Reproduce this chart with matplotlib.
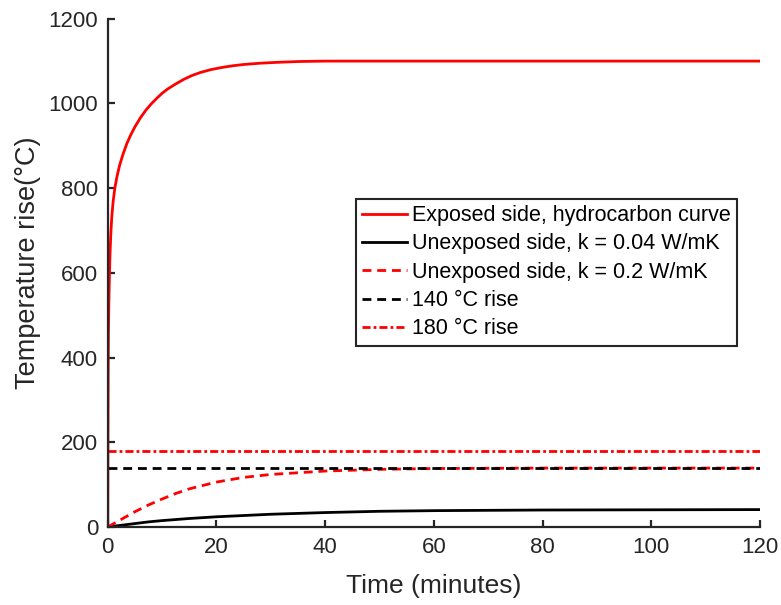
import numpy as np
import matplotlib.pyplot as plt

plt.rcParams["font.family"] = ["Liberation Sans", "DejaVu Sans"]

# exposed side, hydrocarbon curve
t_hc = [0, 0.03, 0.07, 0.12, 0.2, 0.3, 0.4, 0.55, 0.75, 1, 1.3, 1.7, 2.2, 2.8, 3.5,
        4.2, 5, 6, 7, 8, 9, 10, 11, 12.5, 14, 15.5, 17, 19, 21, 23, 25, 28, 31,
        35, 40, 50, 60, 80, 100, 120]
T_hc = [0, 200, 360, 460, 530, 590, 640, 690, 735, 770, 800, 828, 855, 880, 905,
        925, 945, 966, 984, 999, 1012, 1024, 1034, 1046, 1057, 1066, 1073, 1080,
        1085, 1089, 1092, 1095, 1097, 1099, 1100, 1100, 1100, 1100, 1100, 1100]

# unexposed side, k = 0.04 W/mK
t_k004 = [0, 2.5, 5, 7.5, 10, 15, 20, 25, 30, 40, 50, 60, 80, 100, 120]
T_k004 = [0, 4, 8, 12, 15, 20, 24, 27, 30, 34, 37, 38.5, 40, 40.5, 41]

# unexposed side, k = 0.2 W/mK
t_k02 = [0, 2.5, 5, 7.5, 10, 12.5, 15, 20, 25, 30, 40, 50, 60, 80, 100, 120]
T_k02 = [0, 18, 36, 52, 66, 79, 90, 106, 117, 124, 132, 136, 138, 139, 139, 139]

# criteria lines
t_lim = [0, 120]
rise_140 = [140, 140]
rise_180 = [180, 180]

fig = plt.figure(figsize=(7.81, 6.05), dpi=100)
ax = fig.add_axes([0.138, 0.129, 0.835, 0.84])

lw = 2.0
ax.plot(t_hc, T_hc, "-", color="red", lw=lw, label="Exposed side, hydrocarbon curve")
ax.plot(t_k004, T_k004, "-", color="black", lw=lw, label="Unexposed side, k = 0.04 W/mK")
ax.plot(t_k02, T_k02, "--", color="red", lw=lw, dashes=(3.2, 2.1),
        label="Unexposed side, k = 0.2 W/mK")
ax.plot(t_lim, rise_140, "--", color="black", lw=lw, dashes=(3.2, 2.1), label="140 °C rise")
ax.plot(t_lim, rise_180, "-.", color="red", lw=lw, dashes=(2.9, 1.1, 1.0, 1.1),
        label="180 °C rise")

ax.set_xlim(0, 120)
ax.set_ylim(0, 1200)
ax.set_xticks(np.arange(0, 121, 20))
ax.set_yticks(np.arange(0, 1201, 200))

gray = "#262626"
for s in ["top", "right"]:
    ax.spines[s].set_visible(False)
for s in ["left", "bottom"]:
    ax.spines[s].set_color(gray)
    ax.spines[s].set_linewidth(1.6)
ax.tick_params(direction="in", length=5, width=1.6, colors=gray, labelsize=16, pad=7)

ax.set_xlabel("Time (minutes)", fontsize=19, color=gray, labelpad=12)
ax.set_ylabel("Temperature rise(°C)", fontsize=19.5, color=gray, labelpad=5, y=0.52)

leg = ax.legend(loc="upper left", bbox_to_anchor=(0.38, 0.646), fontsize=15.5,
                handlelength=2.1, handletextpad=0.23, labelspacing=0.34,
                borderpad=0.3, borderaxespad=0, fancybox=False, framealpha=1)
leg.get_frame().set_edgecolor(gray)
leg.get_frame().set_linewidth(1.5)

fig.savefig("out.png", dpi=100)
